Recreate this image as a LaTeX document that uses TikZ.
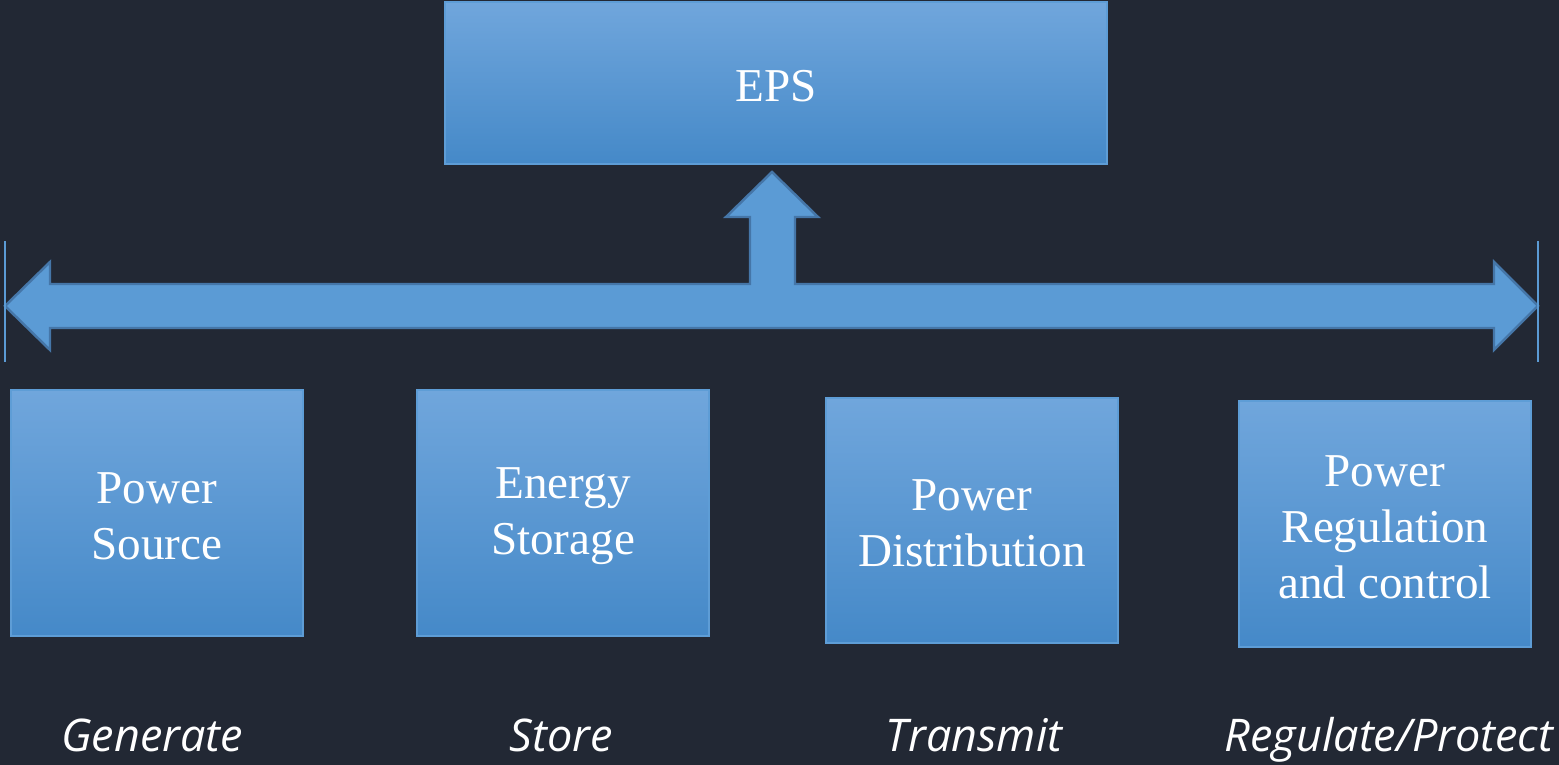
\documentclass[tikz,border=0pt]{standalone}
\usepackage{fontspec}
\setmainfont{Liberation Serif}
\newfontfamily\labelfont{Open Sans}
\definecolor{bgcol}{HTML}{222834}
\definecolor{boxtop}{HTML}{70A6DC}
\definecolor{boxbot}{HTML}{4589C8}
\definecolor{boxedge}{HTML}{5E9DD6}
\definecolor{arrowfill}{HTML}{5B9BD5}
\definecolor{arrowedge}{HTML}{4576A8}
\tikzset{
  blockbox/.style={draw=boxedge, line width=0.6pt, top color=boxtop, bottom color=boxbot,
    inner sep=0pt, outer sep=0pt},
  boxtext/.style={text=white, align=center, inner sep=0pt,
    font=\fontsize{13.4pt}{15.9pt}\selectfont},
  tasklabel/.style={text=white, font=\labelfont\itshape\fontsize{12.8pt}{15pt}\selectfont,
    inner sep=0pt, anchor=base},
  endline/.style={draw=arrowfill, line width=0.6pt},
}
\begin{document}
\begin{tikzpicture}[x=0.01cm,y=-0.01cm]
\fill[bgcol] (0,0) rectangle (1559,765);
\useasboundingbox (0,0) rectangle (1559,765);
% EPS box
\node[blockbox, minimum width=6.62cm, minimum height=1.62cm] (eps) at (776,83) {};
\node[boxtext] (epst) at (776,86) {EPS};
% bottom boxes
\node[blockbox, minimum width=2.92cm, minimum height=2.46cm] (src) at (157,513) {};
\node[blockbox, minimum width=2.92cm, minimum height=2.46cm] (sto) at (563,513) {};
\node[blockbox, minimum width=2.92cm, minimum height=2.45cm] (dis) at (972,520.5) {};
\node[blockbox, minimum width=2.92cm, minimum height=2.46cm] (reg) at (1385,524) {};
\node[boxtext] (srct) at (157,516) {Power\\Source};
\node[boxtext] (stot) at (563,516) {Energy\\Storage};
\node[boxtext] (dist) at (972,523) {Power\\Distribution};
\node[boxtext] (regt) at (1385,527) {Power\\Regulation\\and control};
% arrow
\filldraw[fill=arrowfill, draw=arrowedge, line width=0.7pt, line join=miter]
  (5,306) -- (50,262) -- (50,284) -- (750,284) -- (750,217) -- (726,217) -- (772,172)
  -- (818,217) -- (795,217) -- (795,284) -- (1494,284) -- (1494,262) -- (1538,306)
  -- (1494,350) -- (1494,328) -- (50,328) -- (50,350) -- cycle;
\coordinate (lt) at (5,241); \coordinate (lb) at (5,362);
\coordinate (rt) at (1538,241); \coordinate (rb) at (1538,362);
\draw[endline] (lt) -- (lb);
\draw[endline] (rt) -- (rb);
% labels
\node[tasklabel] (l1) at (152,752) {Generate};
\node[tasklabel] (l2) at (561,752) {Store};
\node[tasklabel] (l3) at (974,752) {Transmit};
\node[tasklabel] (l4) at (1389,752) {Regulate/Protect};
\end{tikzpicture}
\end{document}
